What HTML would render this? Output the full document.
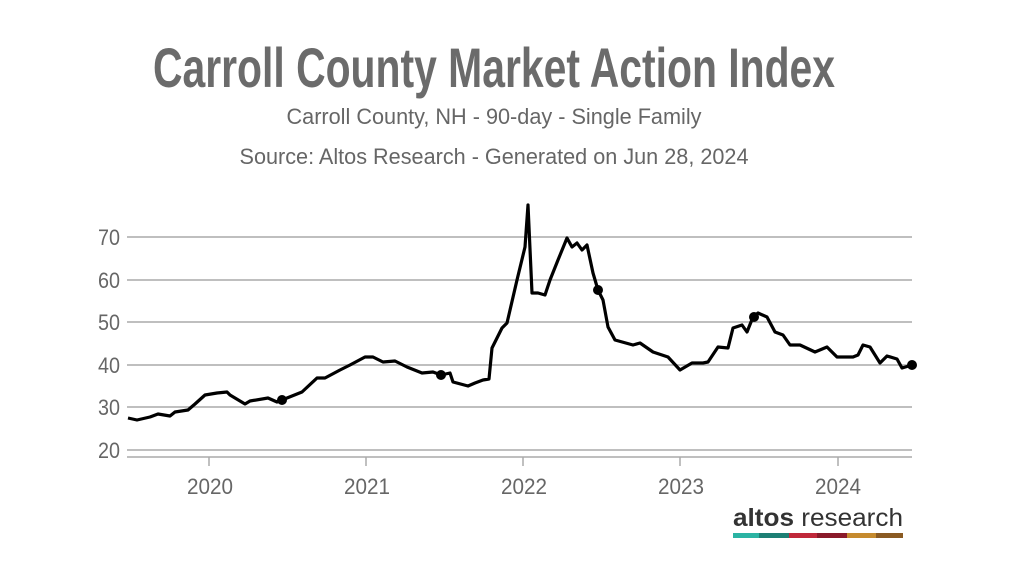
<!DOCTYPE html>
<html><head><meta charset="utf-8"><style>
body{margin:0;background:#fff;width:1022px;height:576px;overflow:hidden}
svg text{font-family:"Liberation Sans Narrow","Liberation Sans",sans-serif}
</style></head><body>
<svg width="1022" height="576" viewBox="0 0 1022 576">
<text x="494" y="87" text-anchor="middle" font-size="56" font-weight="bold" fill="#6b6b6b" textLength="682" lengthAdjust="spacingAndGlyphs">Carroll County Market Action Index</text>
<text x="494" y="124" text-anchor="middle" font-size="22" fill="#666" textLength="415" lengthAdjust="spacingAndGlyphs">Carroll County, NH - 90-day - Single Family</text>
<text x="494" y="164" text-anchor="middle" font-size="22" fill="#666" textLength="509" lengthAdjust="spacingAndGlyphs">Source: Altos Research - Generated on Jun 28, 2024</text>
<g stroke="#aaa" stroke-width="1.5">
<line x1="127" x2="912" y1="237" y2="237"/><line x1="127" x2="912" y1="280" y2="280"/>
<line x1="127" x2="912" y1="322" y2="322"/><line x1="127" x2="912" y1="365" y2="365"/>
<line x1="127" x2="912" y1="407" y2="407"/><line x1="127" x2="912" y1="450" y2="450"/>
<line x1="127" x2="912" y1="457" y2="457"/>
<line x1="209" x2="209" y1="457" y2="466"/><line x1="366" x2="366" y1="457" y2="466"/>
<line x1="523" x2="523" y1="457" y2="466"/><line x1="680" x2="680" y1="457" y2="466"/>
<line x1="838" x2="838" y1="457" y2="466"/>
</g>
<g font-size="22" fill="#666" text-anchor="end">
<text x="120" y="245" textLength="22" lengthAdjust="spacingAndGlyphs">70</text><text x="120" y="288" textLength="22" lengthAdjust="spacingAndGlyphs">60</text><text x="120" y="330" textLength="22" lengthAdjust="spacingAndGlyphs">50</text>
<text x="120" y="373" textLength="22" lengthAdjust="spacingAndGlyphs">40</text><text x="120" y="415" textLength="22" lengthAdjust="spacingAndGlyphs">30</text><text x="120" y="458" textLength="22" lengthAdjust="spacingAndGlyphs">20</text>
</g>
<g font-size="22" fill="#666" text-anchor="middle">
<text x="210" y="494" textLength="46" lengthAdjust="spacingAndGlyphs">2020</text><text x="367" y="494" textLength="46" lengthAdjust="spacingAndGlyphs">2021</text><text x="524" y="494" textLength="46" lengthAdjust="spacingAndGlyphs">2022</text>
<text x="681" y="494" textLength="46" lengthAdjust="spacingAndGlyphs">2023</text><text x="838" y="494" textLength="46" lengthAdjust="spacingAndGlyphs">2024</text>
</g>
<polyline fill="none" stroke="#000" stroke-width="3.2" stroke-linejoin="round" points="128,418 137,420 150,417 158,414 170,416 175,412 188,410 195,404 205,395 217,393 227,392 230,395 245,404 250,401 268,398 277,402 282,400 302,392 317,378 325,378 340,370 350,365 365,357 373,357 383,362 395,361 407,367 422,373 433,372 441,375 450,373 453,382 468,386 475,383 483,380 489,379 492,348 502,328 507,323 517,280 525,247 528,205 532,293 538,293 545,295 550,280 558,260 567,238 572,247 577,243 582,250 587,245 593,273 598,290 603,300 608,327 615,340 633,345 640,343 653,352 668,357 680,370 692,363 703,363 708,362 718,347 728,348 733,328 742,325 747,332 753,317 758,313 767,317 775,332 783,335 790,345 800,345 815,352 827,347 837,357 853,357 858,355 863,345 870,347 880,363 887,356 897,359 902,368 912,365"/>
<g fill="#000"><circle cx="282" cy="400" r="5"/><circle cx="441" cy="375" r="5"/><circle cx="598" cy="290" r="5"/><circle cx="754" cy="317" r="5"/><circle cx="912" cy="365" r="5"/></g>
<text x="733" y="526" font-size="25" fill="#333" font-family="Liberation Sans,sans-serif" textLength="170" lengthAdjust="spacingAndGlyphs"><tspan font-weight="bold">altos</tspan> research</text>
<rect x="733" y="533" width="26" height="5" fill="#2bb3a3"/><rect x="759" y="533" width="30" height="5" fill="#1d7f74"/>
<rect x="789" y="533" width="28" height="5" fill="#c0283a"/><rect x="817" y="533" width="30" height="5" fill="#8a1a2a"/>
<rect x="847" y="533" width="29" height="5" fill="#c58a2e"/><rect x="876" y="533" width="27" height="5" fill="#8a5a22"/>
</svg>
</body></html>
